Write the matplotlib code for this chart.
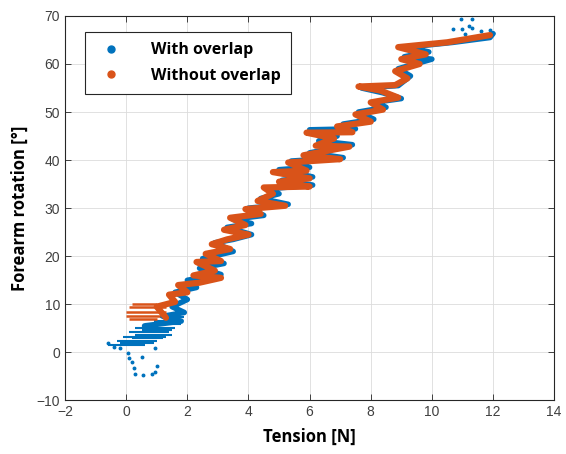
import matplotlib
matplotlib.use('Agg')
import matplotlib.pyplot as plt
from matplotlib.lines import Line2D

plt.rcParams['font.family'] = ['Open Sans', 'DejaVu Sans']

BLUE = '#0072BD'
ORANGE = '#D95319'
DARK = '#262626'

# "With overlap": main zigzag trace (tension [N], rotation [deg])
with_x = [0.6, 1.8, 1.2, 1.9, 1.5, 2.0, 1.6, 2.3, 2.0, 3.1, 2.4, 3.2, 2.5, 3.5, 2.9,
          3.5, 4.1, 3.3, 4.1, 3.5, 4.5, 4.0, 5.3, 4.4, 5.0, 4.6, 6.1, 5.1, 6.1, 5.0,
          6.0, 5.4, 7.1, 6.0, 7.4, 6.3, 6.9, 6.0, 7.5, 7.1, 8.1, 7.6, 8.5, 8.1, 9.0,
          8.4, 7.7, 8.9, 9.3, 8.9, 10.0, 9.1, 9.9, 9.2, 10.7, 11.9, 12.0]
with_y = [5.5, 6.5, 7.5, 8.3, 9.5, 11.0, 12.5, 13.5, 15.0, 16.2, 17.5, 18.5, 19.5, 21.0, 22.8,
          23.5, 24.5, 26.0, 26.8, 27.7, 28.5, 30.0, 30.8, 32.0, 33.0, 34.0, 34.8, 35.8, 36.5, 38.0,
          38.5, 39.8, 40.5, 41.5, 43.2, 44.0, 45.0, 46.3, 46.5, 47.5, 48.5, 50.0, 51.0, 52.0, 52.8,
          54.0, 55.0, 55.5, 57.5, 59.0, 61.0, 61.5, 62.5, 63.5, 64.5, 65.5, 66.3]

# "With overlap": horizontal runs near the start
with_run_y = [1.5, 2.0, 2.4, 2.9, 3.2, 3.7, 4.2, 4.6, 5.0, 5.8, 6.6, 7.4]
with_run_x0 = [-0.6, -0.2, -0.3, 0.2, -0.1, 0.3, 0.1, 0.5, 0.3, 0.6, 0.9, 1.1]
with_run_x1 = [0.6, 0.9, 1.0, 1.2, 1.3, 1.5, 1.4, 1.5, 1.6, 1.8, 1.8, 1.9]

# "With overlap": isolated samples
with_dot_x = [-0.6, -0.4, -0.2, 0.05, 0.1, 0.2, 0.25, 0.3, 0.55, 0.85, 0.95, 1.0, 0.95, 0.5,
              10.95, 11.3, 10.7, 11.0, 11.3, 11.1, 11.6, 11.9, 12.0, 11.2]
with_dot_y = [1.9, 1.2, 1.0, -0.2, -1.2, -2.0, -3.3, -4.6, -4.7, -4.5, -4.0, -2.8, 1.0, -1.0,
              69.4, 69.4, 67.3, 67.2, 67.4, 66.3, 66.8, 67.0, 66.5, 68.0]

# "Without overlap": main zigzag trace
without_x = [1.3, 1.0, 1.6, 1.4, 2.0, 1.7, 2.4, 3.1, 2.2, 2.9, 2.3, 3.1, 2.6, 3.4, 2.8,
             3.3, 4.0, 3.2, 3.9, 3.4, 4.4, 3.9, 5.2, 4.3, 4.8, 4.5, 6.0, 5.0, 6.0, 4.8,
             5.9, 5.3, 7.0, 5.8, 7.3, 6.2, 6.8, 5.9, 7.4, 6.9, 8.0, 7.5, 8.4, 8.0, 8.9,
             8.3, 7.6, 8.8, 9.2, 8.8, 9.6, 9.0, 9.8, 8.9, 10.5, 11.9]
without_y = [7.2, 9.5, 10.5, 12.0, 12.5, 14.0, 14.5, 15.5, 16.0, 17.0, 18.8, 19.0, 20.5, 21.5, 22.5,
             23.5, 24.5, 25.5, 26.5, 28.0, 28.8, 29.8, 30.5, 31.5, 33.0, 34.3, 34.5, 35.5, 36.2, 37.5,
             37.8, 39.5, 40.2, 41.0, 42.8, 43.0, 44.5, 45.7, 45.8, 47.0, 48.0, 49.5, 50.5, 52.0, 53.0,
             54.5, 55.3, 55.6, 57.0, 58.5, 60.0, 61.0, 62.0, 63.5, 64.5, 66.0]

# "Without overlap": horizontal runs near the start
without_run_y = [10.1, 9.5, 8.4, 7.6, 7.0]
without_run_x0 = [0.2, 0.1, 0.0, 0.0, 0.1]
without_run_x1 = [1.0, 1.3, 1.3, 1.1, 1.0]

fig = plt.figure(figsize=(5.66, 4.54), dpi=100)
ax = fig.add_axes([0.115, 0.118, 0.864, 0.847])

ax.hlines(with_run_y, with_run_x0, with_run_x1, color=BLUE, lw=1.5, zorder=2)
ax.plot(with_x, with_y, '-', color=BLUE, lw=4, solid_capstyle='round', zorder=2)
ax.plot(with_dot_x, with_dot_y, 'o', color=BLUE, ms=1.8, zorder=2)

ax.hlines(without_run_y, without_run_x0, without_run_x1, color=ORANGE, lw=1.8, zorder=3)
ax.plot(without_x, without_y, '-', color=ORANGE, lw=4.5, solid_capstyle='round', zorder=3)

ax.set_xlim(-2, 14)
ax.set_ylim(-10, 70)
ax.set_xticks(range(-2, 15, 2))
ax.set_yticks(range(-10, 71, 10))
ax.grid(True, color='#dcdcdc', lw=0.6)
ax.set_axisbelow(True)
ax.tick_params(direction='in', top=True, right=True, length=4, width=0.6,
               colors=DARK, labelsize=10, labelcolor='#404040')
for lab in ax.get_xticklabels() + ax.get_yticklabels():
    lab.set_family('Liberation Sans')
for s in ax.spines.values():
    s.set_color(DARK)
    s.set_linewidth(0.8)

ax.set_xlabel('Tension [N]', fontsize=12, fontweight='bold', labelpad=6)
ax.set_ylabel('Forearm rotation [°]', fontsize=12, fontweight='bold', labelpad=6)

handles = [Line2D([], [], ls='none', marker='o', ms=5, color=BLUE),
           Line2D([], [], ls='none', marker='o', ms=5, color=ORANGE)]
leg = ax.legend(handles, ['With overlap', 'Without overlap'], loc='upper left',
                bbox_to_anchor=(0.04, 0.958), borderaxespad=0, fancybox=False,
                edgecolor=DARK, prop={'weight': 'bold', 'size': 11.5},
                handletextpad=1.5, borderpad=0.65, labelspacing=0.6, framealpha=1)
leg.get_frame().set_linewidth(0.8)

fig.savefig('out.png', dpi=100)
